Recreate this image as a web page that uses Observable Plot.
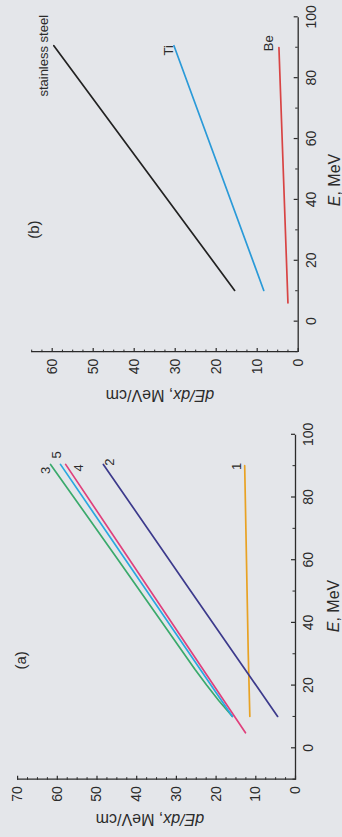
<!DOCTYPE html>
<html><head><meta charset="utf-8">
<script src="https://cdn.jsdelivr.net/npm/d3@7"></script>
<script src="https://cdn.jsdelivr.net/npm/@observablehq/plot@0.6"></script>
<style>
html,body{margin:0;padding:0;background:#e4e6ea;width:342px;height:837px;overflow:hidden;}
#stage{position:absolute;left:0;top:0;width:837px;height:342px;transform-origin:0 0;transform:translate(0px,837px) rotate(-90deg);}
.panel{position:absolute;top:0;}
</style></head><body><div id="stage"></div>
<script>
// ---------- data ----------
// Panel (a)
const seriesA = ["1", "2", "3", "4", "5"];
const energyA = {
  "1": [10, 30, 50, 70, 90],
  "2": [10, 50, 90.4],
  "3": [10, 15, 20, 25, 40, 60, 90.4],
  "4": [4.8, 90.4],
  "5": [10, 90.4]
};
const dedxA = {
  "1": [11.5, 11.9, 12.2, 12.5, 12.8],
  "2": [4.5, 26.4, 48.4],
  "3": [15.9, 19.3, 22.4, 25.3, 33.6, 44.7, 61.7],
  "4": [12.6, 57.9],
  "5": [15.9, 59.2]
};
const labelTextA = ["1", "2", "3", "4", "5"];
const labelEA = [89.8, 91.1, 88.5, 89.3, 93.4];
const labelYA = [14.7, 46.7, 63.0, 54.6, 60.0];

// Panel (b)
const seriesB = ["stainless steel", "Ti", "Be"];
const energyB = {
  "stainless steel": [10.1, 90.5],
  "Ti": [10.1, 90.5],
  "Be": [6.0, 89.9]
};
const dedxB = {
  "stainless steel": [15.5, 59.6],
  "Ti": [8.4, 30.3],
  "Be": [2.5, 4.7]
};
const labelTextB = ["stainless steel", "Ti", "Be"];
const labelEB = [87.2, 89.0, 91.3];
const labelYB = [62.1, 31.6, 7.2];

// axis ticks
const xTicks = [0, 20, 40, 60, 80, 100];
const xMinor = [-10, 10, 30, 50, 70, 90];
const yTicksA = [0, 10, 20, 30, 40, 50, 60, 70];
const yTicksB = [0, 10, 20, 30, 40, 50, 60];

// ---------- styles ----------
const ink = "#2b2b2b";
const colorsA = ["#e8a224", "#3c3a8c", "#3aaa6c", "#e0407c", "#2aa8e0"];
const colorsB = ["#222222", "#2a9ad8", "#d84444"];
const font = "'Liberation Sans', Arial, Helvetica, sans-serif";

function rows(series, E, Y) {
  const out = [];
  for (const s of series) E[s].forEach((e, i) => out.push({series: s, E: e, y: Y[s][i]}));
  return out;
}
function labelRows(t, e, y) { return t.map((s, i) => ({text: s, E: e[i], y: y[i]})); }
function minorTicks(max, step) { const r = []; for (let v = 0; v <= max + 1e-9; v += step) r.push(+v.toFixed(2)); return r; }

function makePanel(cfg) {
  const innerW = cfg.width - cfg.marginLeft - cfg.marginRight;
  const innerH = cfg.height - cfg.marginTop - cfg.marginBottom;
  const yMin = minorTicks(cfg.yDomain[1], 2.5).filter(v => v % 10 !== 0);
  const svg = Plot.plot({
    width: cfg.width, height: cfg.height,
    marginLeft: cfg.marginLeft, marginRight: cfg.marginRight,
    marginTop: cfg.marginTop, marginBottom: cfg.marginBottom,
    style: {fontFamily: font, fontSize: "14px", color: ink, background: "transparent", overflow: "visible"},
    x: {domain: [-10, 100], ticks: xTicks, tickSize: 0, tickPadding: 8, label: null},
    y: {domain: cfg.yDomain, ticks: cfg.yTicks, tickSize: 0, tickPadding: 7, label: null},
    color: {domain: cfg.series, range: cfg.colors},
    marks: [
      Plot.ruleY([cfg.yDomain[0]], {stroke: ink, strokeWidth: 1.3}),
      Plot.ruleX([-10], {stroke: ink, strokeWidth: 1.3}),
      Plot.tickX(xTicks, {x: d => d, insetTop: innerH - 4, stroke: ink, strokeWidth: 1.2}),
      Plot.tickX(xMinor, {x: d => d, insetTop: innerH - 2.5, stroke: ink, strokeWidth: 1}),
      Plot.tickY(cfg.yTicks, {y: d => d, insetRight: innerW - 4, stroke: ink, strokeWidth: 1.2}),
      Plot.tickY(yMin, {y: d => d, insetRight: innerW - 2.5, stroke: ink, strokeWidth: 1}),
      Plot.line(cfg.lines, {x: "E", y: "y", z: "series", stroke: "series", strokeWidth: 1.7}),
      Plot.text(cfg.labels, {x: "E", y: "y", text: "text", fontSize: 13, fill: ink}),
      Plot.text([cfg.tag], {x: "E", y: "y", text: "text", fontSize: 15, fill: ink})
    ]
  });
  const s = d3.select(svg);
  const xt = s.append("text").attr("x", cfg.xTitle[0]).attr("y", cfg.xTitle[1])
    .attr("text-anchor", "middle").attr("dominant-baseline", "central")
    .attr("font-size", 16).attr("fill", ink).attr("font-family", font);
  xt.append("tspan").attr("font-style", "italic").text("E");
  xt.append("tspan").text(", MeV");
  const yt = s.append("text")
    .attr("transform", `translate(${cfg.yTitle[0]},${cfg.yTitle[1]}) rotate(-90)`)
    .attr("text-anchor", "middle").attr("dominant-baseline", "central")
    .attr("font-size", 16).attr("fill", ink).attr("font-family", font);
  yt.append("tspan").attr("font-style", "italic").text("dE/dx");
  yt.append("tspan").text(", MeV/cm");
  const wrap = document.createElement("div");
  wrap.className = "panel";
  wrap.style.left = cfg.left + "px";
  wrap.appendChild(svg);
  document.getElementById("stage").appendChild(wrap);
}

makePanel({
  left: 0, width: 420, height: 342,
  marginLeft: 57.35, marginRight: 17.8, marginTop: 17.1, marginBottom: 47,
  yDomain: [0, 70], yTicks: yTicksA,
  series: seriesA, colors: colorsA,
  lines: rows(seriesA, energyA, dedxA),
  labels: labelRows(labelTextA, labelEA, labelYA),
  tag: {text: "(a)", E: 27.9, y: 69.1},
  xTitle: [231, 333], yTitle: [17.5, 150]
});
makePanel({
  left: 420, width: 417, height: 342,
  marginLeft: 64.9, marginRight: 17.3, marginTop: 31.2, marginBottom: 44.3,
  yDomain: [0, 65], yTicks: yTicksB,
  series: seriesB, colors: colorsB,
  lines: rows(seriesB, energyB, dedxB),
  labels: labelRows(labelTextB, labelEB, labelYB),
  tag: {text: "(b)", E: 30.1, y: 64.5},
  xTitle: [237, 333.5], yTitle: [21.3, 160]
});
</script></body></html>
